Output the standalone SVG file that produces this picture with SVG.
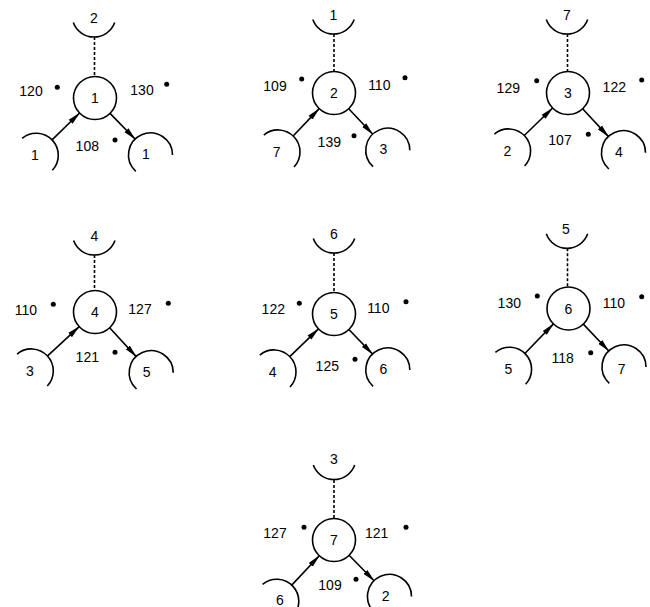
<svg xmlns="http://www.w3.org/2000/svg" xmlns:xlink="http://www.w3.org/1999/xlink" width="650" height="607" viewBox="0 0 650 607">
<style>
text{font-family:"Liberation Sans",Arial,sans-serif;font-size:14px;fill:#000;text-anchor:middle}
.c{fill:none;stroke:#000;stroke-width:1.6}
.a{fill:none;stroke:#000;stroke-width:1.6}
.d{fill:#000}
.e{stroke:#000;stroke-width:1.6;fill:none;marker-end:url(#ah)}
.s{stroke:#000;stroke-width:1.6;fill:none;stroke-dasharray:3 2}
</style>
<defs>
<marker id="ah" markerWidth="13" markerHeight="7" refX="12.5" refY="3.5" orient="auto" markerUnits="userSpaceOnUse"><path d="M0,0.7 L13,3.5 L0,6.3 z" fill="#000"/></marker>
<path id="arcT" d="M-20.7,7.5 A22,22 0 0 0 20.7,7.5"/>
<path id="arcL" d="M-14.4,-16.6 A22,22 0 0 1 15.8,15.3"/>
<path id="arcR" d="M-14.7,16.3 A22,22 0 1 1 22,0"/>
<circle id="dot" r="2.5"/>
</defs>
<rect width="650" height="607" fill="#fff"/>

<g id="node1">
<circle class="c" cx="95" cy="98" r="21.5"/><text x="95" y="103">1</text>
<use class="a" href="#arcT" x="94" y="15"/><text x="94" y="23">2</text>
<use class="a" href="#arcL" x="36.5" y="155"/><text x="35" y="160">1</text>
<use class="a" href="#arcR" x="150.5" y="155"/><text x="146" y="159">1</text>
<text x="31" y="96">120</text><use class="d" href="#dot" x="57.3" y="87.3"/>
<text x="142" y="95">130</text><use class="d" href="#dot" x="166.7" y="84.3"/>
<text x="87.3" y="151">108</text><use class="d" href="#dot" x="115" y="140"/>
</g>

<g id="node2">
<circle class="c" cx="334" cy="93" r="21.5"/><text x="334" y="98">2</text>
<use class="a" href="#arcT" x="333.5" y="12"/><text x="333.5" y="20">1</text>
<use class="a" href="#arcL" x="278.2" y="151.7"/><text x="276.7" y="156.7">7</text>
<use class="a" href="#arcR" x="387.8" y="150.3"/><text x="383.3" y="154.3">3</text>
<text x="275" y="91">109</text><use class="d" href="#dot" x="301.7" y="79"/>
<text x="379.3" y="90">110</text><use class="d" href="#dot" x="405" y="77.7"/>
<text x="329.3" y="146.7">139</text><use class="d" href="#dot" x="354" y="135.7"/>
</g>

<g id="node3">
<circle class="c" cx="568" cy="93" r="21.5"/><text x="568" y="98">3</text>
<use class="a" href="#arcT" x="567" y="12"/><text x="567" y="20">7</text>
<use class="a" href="#arcL" x="508.8" y="150.7"/><text x="507.3" y="155.7">2</text>
<use class="a" href="#arcR" x="623.5" y="152.7"/><text x="619" y="156.7">4</text>
<text x="508.3" y="93.3">129</text><use class="d" href="#dot" x="536.7" y="80.7"/>
<text x="614.3" y="92.3">122</text><use class="d" href="#dot" x="641.7" y="80"/>
<text x="560" y="145">107</text><use class="d" href="#dot" x="588.3" y="134.3"/>
</g>

<g id="node4">
<circle class="c" cx="95" cy="312" r="21.5"/><text x="95" y="317">4</text>
<use class="a" href="#arcT" x="94.3" y="233"/><text x="94.3" y="241">4</text>
<use class="a" href="#arcL" x="31.5" y="370.7"/><text x="30" y="375.7">3</text>
<use class="a" href="#arcR" x="151.2" y="372.7"/><text x="146.7" y="376.7">5</text>
<text x="26" y="315.3">110</text><use class="d" href="#dot" x="53.3" y="304.3"/>
<text x="140" y="314.3">127</text><use class="d" href="#dot" x="168.3" y="303.3"/>
<text x="87.3" y="361.7">121</text><use class="d" href="#dot" x="115" y="352.3"/>
</g>

<g id="node5">
<circle class="c" cx="334" cy="314" r="21.5"/><text x="334" y="319">5</text>
<use class="a" href="#arcT" x="334" y="231"/><text x="334" y="239">6</text>
<use class="a" href="#arcL" x="274.2" y="371.7"/><text x="272.7" y="376.7">4</text>
<use class="a" href="#arcR" x="387.8" y="370"/><text x="383.3" y="374">6</text>
<text x="273.3" y="314.3">122</text><use class="d" href="#dot" x="299.3" y="303.3"/>
<text x="378.3" y="313.3">110</text><use class="d" href="#dot" x="406" y="301.7"/>
<text x="327.3" y="370.7">125</text><use class="d" href="#dot" x="355" y="359.3"/>
</g>

<g id="node6">
<circle class="c" cx="568.5" cy="308.5" r="21.5"/><text x="568.5" y="313.5">6</text>
<use class="a" href="#arcT" x="567" y="226.3"/><text x="566" y="234.3">5</text>
<use class="a" href="#arcL" x="509.8" y="369"/><text x="508.3" y="374">5</text>
<use class="a" href="#arcR" x="624" y="367"/><text x="621.7" y="374">7</text>
<text x="509.3" y="307.7">130</text><use class="d" href="#dot" x="537.3" y="296"/>
<text x="614" y="307.7">110</text><use class="d" href="#dot" x="641.7" y="296.7"/>
<text x="562.7" y="363.3">118</text><use class="d" href="#dot" x="590.7" y="352.7"/>
</g>

<g id="node7">
<circle class="c" cx="334" cy="540" r="21.5"/><text x="334" y="545">7</text>
<use class="a" href="#arcT" x="334" y="457.5"/><text x="334" y="464.3">3</text>
<use class="a" href="#arcL" x="277" y="601"/><text x="280" y="605">6</text>
<use class="a" href="#arcR" x="389.5" y="596.5"/><text x="385.7" y="600.7">2</text>
<text x="275" y="538.3">127</text><use class="d" href="#dot" x="304" y="527.3"/>
<text x="376.7" y="538.3">121</text><use class="d" href="#dot" x="406" y="527.3"/>
<text x="330" y="590">109</text><use class="d" href="#dot" x="356" y="579.3"/>
</g>

<g id="connectors">
<line class="s" x1="94.5" y1="37" x2="94.5" y2="76.5"/>
<line class="e" x1="52.3" y1="139.6" x2="79.6" y2="113"/>
<line class="e" x1="110" y1="113.4" x2="135.2" y2="139.2"/>

<line class="s" x1="334" y1="34" x2="334" y2="71.5"/>
<line class="e" x1="293.4" y1="135.8" x2="319.2" y2="108.6"/>
<line class="e" x1="348.7" y1="108.7" x2="372.8" y2="134.3"/>

<line class="s" x1="567.5" y1="34" x2="567.5" y2="71.5"/>
<line class="e" x1="524.5" y1="135.3" x2="552.6" y2="108"/>
<line class="e" x1="582.6" y1="108.8" x2="608.5" y2="136.6"/>

<line class="s" x1="94.5" y1="255" x2="94.5" y2="290.5"/>
<line class="e" x1="47.6" y1="355.8" x2="79.2" y2="326.6"/>
<line class="e" x1="109.6" y1="327.8" x2="136.2" y2="356.6"/>

<line class="s" x1="334" y1="253" x2="334" y2="292.5"/>
<line class="e" x1="290" y1="356.4" x2="318.5" y2="328.9"/>
<line class="e" x1="348.9" y1="329.5" x2="372.6" y2="354.1"/>

<line class="s" x1="567.5" y1="248.3" x2="567.5" y2="287"/>
<line class="e" x1="525.1" y1="353.2" x2="553.5" y2="323.9"/>
<line class="e" x1="583.3" y1="324.1" x2="608.8" y2="351"/>

<line class="s" x1="334" y1="480" x2="334" y2="518.5"/>
<line class="e" x1="292" y1="584.9" x2="319.3" y2="555.7"/>
<line class="e" x1="349.1" y1="555.3" x2="374.1" y2="580.8"/>
</g>
</svg>
